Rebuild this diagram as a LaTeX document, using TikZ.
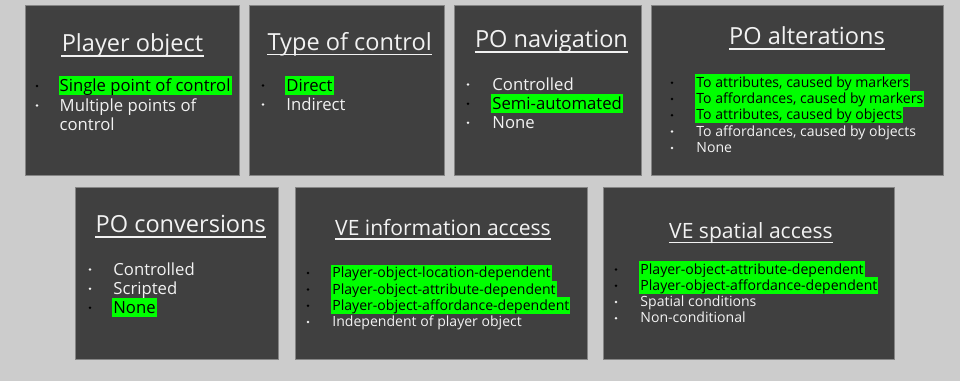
\documentclass[tikz,border=0pt]{standalone}
\usepackage{fontspec}
\setmainfont{Open Sans}
\usetikzlibrary{positioning, fit}
\definecolor{cback}{HTML}{CCCCCC}
\definecolor{cpanel}{HTML}{404040}
\definecolor{cedge}{HTML}{858585}
\definecolor{ctext}{HTML}{F2F2F2}
\definecolor{cmark}{HTML}{00FF00}

\begin{document}
\begin{tikzpicture}[x=0.2mm, y=-0.2mm,
  panel/.style={draw=cedge, fill=cpanel, line width=0.5pt, inner sep=0pt},
  heading/.style={anchor=base, text=ctext, inner sep=0pt, font=\fontsize{13.4}{16}\selectfont},
  vheading/.style={heading, font=\fontsize{12}{14}\selectfont},
  uline/.style={draw=ctext, line width=0.9pt},
  item/.style={anchor=base west, text=ctext, inner xsep=0.6pt, inner ysep=0pt, align=left, font=\fontsize{9.5}{11.1}\selectfont},
  hitem/.style={item, fill=cmark, text=black, text height=8.6pt, text depth=2pt},
  sitem/.style={item, font=\fontsize{8}{9.3}\selectfont},
  shitem/.style={sitem, fill=cmark, text=black, text height=7.3pt, text depth=1.9pt},
  dot/.style={circle, fill=ctext, inner sep=0pt, minimum size=0.55mm},
  hdot/.style={dot, fill=black}
]

  % background
  \fill[cback] (0,0) rectangle (960,381);
  \useasboundingbox (0,0) rectangle (960,381);

  % Player object
  \node[panel, fit={(25,5) (239,175)}] (pobj) {};
  \node[heading] (tpobj) at (132.5,51.7) {Player object};
  \draw[uline] ([yshift=-2.6pt]tpobj.base west) -- ([yshift=-2.6pt]tpobj.base east);
  \node[hitem] (pobj1) at (58.3,91.5) {Single point of control};
  \node[item] (pobj2) at (58.3,130.5) {Multiple points of\\control};
  \node[hdot] (dpobj1) at (37,86) {};
  \node[dot] (dpobj2) at (37,105.5) {};

  % Type of control
  \node[panel, fit={(249,5) (444,175)}] (ctrl) {};
  \node[heading] (tctrl) at (349.7,50) {Type of control};
  \draw[uline] ([yshift=-2.6pt]tctrl.base west) -- ([yshift=-2.6pt]tctrl.base east);
  \node[hitem] (ctrl1) at (285,91) {Direct};
  \node[item] (ctrl2) at (285,110) {Indirect};
  \node[hdot] (dctrl1) at (263,85.5) {};
  \node[dot] (dctrl2) at (263,104.5) {};

  % PO navigation
  \node[panel, fit={(454,5) (641,175)}] (nav) {};
  \node[heading] (tnav) at (551.5,47.7) {PO navigation};
  \draw[uline] ([yshift=-2.6pt]tnav.base west) -- ([yshift=-2.6pt]tnav.base east);
  \node[item] (nav1) at (491,90) {Controlled};
  \node[hitem] (nav2) at (491,109.3) {Semi-automated};
  \node[item] (nav3) at (491,128.3) {None};
  \node[dot] (dnav1) at (468,84.5) {};
  \node[hdot] (dnav2) at (468,103.8) {};
  \node[dot] (dnav3) at (468,122.8) {};

  % PO alterations
  \node[panel, fit={(651,5) (943,175)}] (alt) {};
  \node[heading] (talt) at (807,44.3) {PO alterations};
  \draw[uline] ([yshift=-2.6pt]talt.base west) -- ([yshift=-2.6pt]talt.base east);
  \node[shitem] (alt1) at (695,87.3) {To attributes, caused by markers};
  \node[shitem] (alt2) at (695,103.6) {To affordances, caused by markers};
  \node[shitem] (alt3) at (695,119.9) {To attributes, caused by objects};
  \node[sitem] (alt4) at (695,136.2) {To affordances, caused by objects};
  \node[sitem] (alt5) at (695,152.5) {None};
  \node[hdot] (dalt1) at (672,82.7) {};
  \node[hdot] (dalt2) at (672,99) {};
  \node[hdot] (dalt3) at (672,115.3) {};
  \node[dot] (dalt4) at (672,131.6) {};
  \node[dot] (dalt5) at (672,147.9) {};

  % PO conversions
  \node[panel, fit={(75,187) (278,359)}] (conv) {};
  \node[heading] (tconv) at (180.8,232.3) {PO conversions};
  \draw[uline] ([yshift=-2.6pt]tconv.base west) -- ([yshift=-2.6pt]tconv.base east);
  \node[item] (conv1) at (112,275) {Controlled};
  \node[item] (conv2) at (112,294.3) {Scripted};
  \node[hitem] (conv3) at (112,313.3) {None};
  \node[dot] (dconv1) at (90,269.5) {};
  \node[dot] (dconv2) at (90,288.8) {};
  \node[hdot] (dconv3) at (90,307.8) {};

  % VE information access
  \node[panel, fit={(295,187) (587,359)}] (info) {};
  \node[vheading] (tinfo) at (443,235) {VE information access};
  \draw[uline] ([yshift=-2.3pt]tinfo.base west) -- ([yshift=-2.3pt]tinfo.base east);
  \node[shitem] (info1) at (331,277.7) {Player-object-location-dependent};
  \node[shitem] (info2) at (331,294) {Player-object-attribute-dependent};
  \node[shitem] (info3) at (331,310.3) {Player-object-affordance-dependent};
  \node[sitem] (info4) at (331,326.6) {Independent of player object};
  \node[hdot] (dinfo1) at (308,273.1) {};
  \node[hdot] (dinfo2) at (308,289.4) {};
  \node[hdot] (dinfo3) at (308,305.7) {};
  \node[dot] (dinfo4) at (308,322) {};

  % VE spatial access
  \node[panel, fit={(603,187) (894,359)}] (spat) {};
  \node[vheading] (tspat) at (751,238.3) {VE spatial access};
  \draw[uline] ([yshift=-2.3pt]tspat.base west) -- ([yshift=-2.3pt]tspat.base east);
  \node[shitem] (spat1) at (639,274) {Player-object-attribute-dependent};
  \node[shitem] (spat2) at (639,290.3) {Player-object-affordance-dependent};
  \node[sitem] (spat3) at (639,306.6) {Spatial conditions};
  \node[sitem] (spat4) at (639,322.9) {Non-conditional};
  \node[hdot] (dspat1) at (616,269.4) {};
  \node[hdot] (dspat2) at (616,285.7) {};
  \node[dot] (dspat3) at (616,302) {};
  \node[dot] (dspat4) at (616,318.3) {};

\end{tikzpicture}
\end{document}
